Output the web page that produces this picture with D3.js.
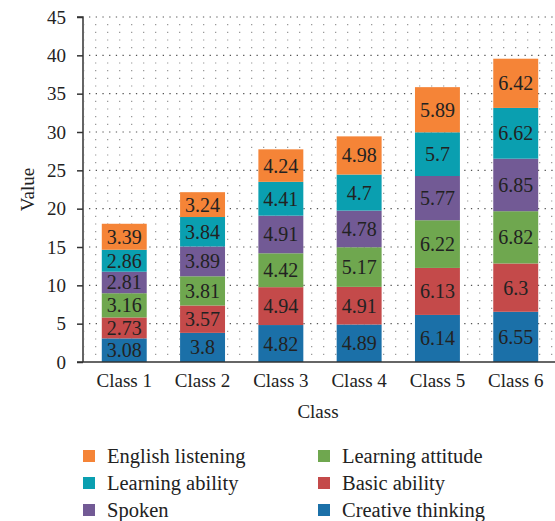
<!DOCTYPE html>
<html>
<head>
<meta charset="utf-8">
<script src="https://cdn.jsdelivr.net/npm/d3@7/dist/d3.min.js"></script>
<style>
  html, body { margin: 0; padding: 0; background: #fff; }
  svg { display: block; }
  text { font-family: "Liberation Serif", "Times New Roman", serif; fill: #222; }
</style>
</head>
<body>
<svg id="chart" width="555" height="521"></svg>
<script>
const classes = ["Class 1", "Class 2", "Class 3", "Class 4", "Class 5", "Class 6"];
const seriesNames = ["Creative thinking", "Basic ability", "Learning attitude", "Spoken", "Learning ability", "English listening"];
const seriesColors = ["#1b70a8", "#c44a4a", "#6fa74f", "#725a95", "#0a9fb0", "#f58437"];
const creativeThinking = [3.08, 3.8, 4.82, 4.89, 6.14, 6.55];
const basicAbility = [2.73, 3.57, 4.94, 4.91, 6.13, 6.3];
const learningAttitude = [3.16, 3.81, 4.42, 5.17, 6.22, 6.82];
const spoken = [2.81, 3.89, 4.91, 4.78, 5.77, 6.85];
const learningAbility = [2.86, 3.84, 4.41, 4.7, 5.7, 6.62];
const englishListening = [3.39, 3.24, 4.24, 4.98, 5.89, 6.42];
const yTicks = [0, 5, 10, 15, 20, 25, 30, 35, 40, 45];
const legendOrder = ["English listening", "Learning ability", "Spoken", "Learning attitude", "Basic ability", "Creative thinking"];

const seriesValues = [creativeThinking, basicAbility, learningAttitude, spoken, learningAbility, englishListening];
const table = classes.map((c, i) => {
  const row = { cls: c };
  seriesNames.forEach((s, j) => row[s] = seriesValues[j][i]);
  return row;
});

const svg = d3.select("#chart");
const mLeft = 83, mRight = 557, mTop = 17, mBottom = 362;

const x = d3.scaleBand().domain(classes).range([mLeft, mRight]).paddingInner(0.426).paddingOuter(0.24);
const y = d3.scaleLinear().domain([0, 45]).range([mBottom, mTop]);
const color = d3.scaleOrdinal().domain(seriesNames).range(seriesColors);

// grid
const grid = svg.append("g");
const minorVals = d3.range(1, 46).filter(v => v % 5 !== 0);
grid.selectAll("line.minor").data(minorVals).join("line")
  .attr("x1", mLeft + 1).attr("x2", 553)
  .attr("y1", d => y(d)).attr("y2", d => y(d))
  .attr("stroke", "#9a9a9a").attr("stroke-width", 1.2)
  .attr("stroke-dasharray", "1.3,10.7").attr("stroke-dashoffset", -11);
grid.selectAll("line.major").data(yTicks.filter(v => v > 0)).join("line")
  .attr("x1", mLeft + 1).attr("x2", 553)
  .attr("y1", d => y(d)).attr("y2", d => y(d))
  .attr("stroke", "#555").attr("stroke-width", 1.2)
  .attr("stroke-dasharray", "1.3,5.4").attr("stroke-dashoffset", -5);

// stacked bars
const stacked = d3.stack().keys(seriesNames)(table);
const layers = svg.append("g").selectAll("g").data(stacked).join("g")
  .attr("fill", d => color(d.key));
layers.selectAll("rect").data(d => d).join("rect")
  .attr("x", d => x(d.data.cls))
  .attr("width", x.bandwidth())
  .attr("y", d => y(d[1]))
  .attr("height", d => y(d[0]) - y(d[1]));

const labels = svg.append("g");
stacked.forEach(layer => {
  labels.selectAll(null).data(layer).join("text")
    .attr("x", d => x(d.data.cls) + x.bandwidth() / 2)
    .attr("y", d => (y(d[0]) + y(d[1])) / 2)
    .attr("text-anchor", "middle")
    .attr("dominant-baseline", "central")
    .attr("font-size", 20)
    .text(d => d.data[layer.key]);
});

// axes
const yAxis = svg.append("g").attr("transform", `translate(${mLeft},0)`)
  .call(d3.axisLeft(y).tickValues(yTicks).tickSize(6).tickPadding(11).tickFormat(d3.format("d")));
yAxis.selectAll("text").attr("font-size", 19).attr("font-family", "Liberation Serif, serif").attr("fill", "#222");
yAxis.selectAll("line").attr("stroke", "#333").attr("stroke-width", 1.5);
yAxis.select(".domain").attr("stroke", "#333").attr("stroke-width", 1.5).attr("d", `M-6,${y(45)}H0V${mBottom}`);

const xAxis = svg.append("g").attr("transform", `translate(0,${mBottom})`)
  .call(d3.axisBottom(x).tickSize(0).tickPadding(11.5));
xAxis.selectAll("text").attr("font-size", 19).attr("font-family", "Liberation Serif, serif").attr("fill", "#222");
xAxis.select(".domain").attr("stroke", "#333").attr("stroke-width", 1.5).attr("d", `M${mLeft - 6},0H555`);

svg.append("text").attr("x", 318).attr("y", 418).attr("text-anchor", "middle")
  .attr("font-size", 19).text("Class");
svg.append("text").attr("transform", `translate(34,${(mTop + mBottom) / 2}) rotate(-90)`)
  .attr("text-anchor", "middle").attr("font-size", 19).text("Value");

// legend
const legend = svg.append("g");
legendOrder.forEach((name, i) => {
  const col = Math.floor(i / 3), row = i % 3;
  const gx = col === 0 ? 83 : 318;
  const gy = 456 + row * 27;
  legend.append("rect").attr("x", gx).attr("y", gy - 6).attr("width", 12).attr("height", 12)
    .attr("fill", color(name));
  legend.append("text").attr("x", gx + 24).attr("y", gy).attr("dominant-baseline", "central")
    .attr("font-size", 20.5).text(name);
});
</script>
</body>
</html>
